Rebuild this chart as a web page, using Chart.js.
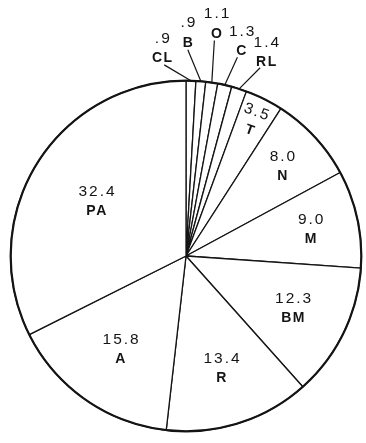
<!DOCTYPE html>
<html>
<head>
<meta charset="utf-8">
<script src="https://cdn.jsdelivr.net/npm/chart.js@4.4.0/dist/chart.umd.min.js"></script>
<style>
  html, body { margin: 0; padding: 0; background: #fff; }
  #wrap { width: 366px; height: 443px; position: relative; }
</style>
</head>
<body>
<div id="wrap"><canvas id="pie"></canvas></div>
<script>
// slices clockwise from 12 o'clock
const codes = ['CL', 'B', 'O', 'C', 'RL', 'T', 'N', 'M', 'BM', 'R', 'A', 'PA'];
const shares = [0.9, 0.9, 1.1, 1.3, 1.4, 3.5, 8.0, 9.0, 12.3, 13.4, 15.8, 32.4];
const shareText = ['.9', '.9', '1.1', '1.3', '1.4', '3.5', '8.0', '9.0', '12.3', '13.4', '15.8', '32.4'];

const INK = '#141414';

// writes value + code on each slice; thin slices get fanned out above the rim
const sliceLabels = {
    id: 'sliceLabels',
    afterDatasetsDraw(chart) {
        const ctx = chart.ctx;
        const arcs = chart.getDatasetMeta(0).data;
        const cx = arcs[0].x, cy = arcs[0].y, r = arcs[0].outerRadius;
        const lift = [34, 48, 59, 47, 44]; // stagger for the outside labels

        ctx.save();
        // heavier rim like the print
        ctx.strokeStyle = INK;
        ctx.lineWidth = 2.2;
        ctx.beginPath();
        ctx.arc(cx, cy, r, 0, Math.PI * 2);
        ctx.stroke();

        ctx.fillStyle = INK;
        ctx.textAlign = 'center';
        ctx.textBaseline = 'middle';

        let k = 0;
        arcs.forEach((arc, i) => {
            const mid = (arc.startAngle + arc.endAngle) / 2;
            let x, y, rot = 0;
            if (shares[i] < 2) {
                const a = (-6.5 + 7 * k) * Math.PI / 180 - Math.PI / 2;
                const d = r + lift[k];
                k++;
                x = cx + d * Math.cos(a);
                y = cy + d * Math.sin(a);
                // leader line
                ctx.lineWidth = 1.2;
                ctx.beginPath();
                ctx.moveTo(cx + r * Math.cos(mid), cy + r * Math.sin(mid));
                ctx.lineTo(cx + (d - 17) * Math.cos(a), cy + (d - 17) * Math.sin(a));
                ctx.stroke();
            } else {
                const f = Math.min(0.86, 0.55 + 1.6 / shares[i]);
                x = cx + f * r * Math.cos(mid);
                y = cy + f * r * Math.sin(mid);
                if (shares[i] < 5) rot = mid + Math.PI / 2 - 0.12;
            }
            ctx.save();
            ctx.translate(x, y);
            ctx.rotate(rot);
            ctx.letterSpacing = '2px';
            ctx.font = '15.5px "Liberation Sans", Arial, sans-serif';
            ctx.fillText(shareText[i], 1, -9.5);
            ctx.letterSpacing = '1.5px';
            ctx.font = 'bold 14px "Liberation Sans", Arial, sans-serif';
            ctx.fillText(codes[i], 0.5, 10);
            ctx.restore();
        });
        ctx.restore();
    }
};

new Chart(document.getElementById('pie'), {
    type: 'pie',
    data: {
        labels: codes,
        datasets: [{
            data: shares,
            backgroundColor: '#ffffff',
            borderColor: INK,
            borderWidth: 1.3,
            borderAlign: 'center'
        }]
    },
    options: {
        responsive: true,
        maintainAspectRatio: false,
        animation: false,
        layout: { padding: { left: 10, right: 4, top: 79, bottom: 10 } },
        plugins: {
            legend: { display: false },
            tooltip: { enabled: false }
        }
    },
    plugins: [sliceLabels]
});
</script>
</body>
</html>
